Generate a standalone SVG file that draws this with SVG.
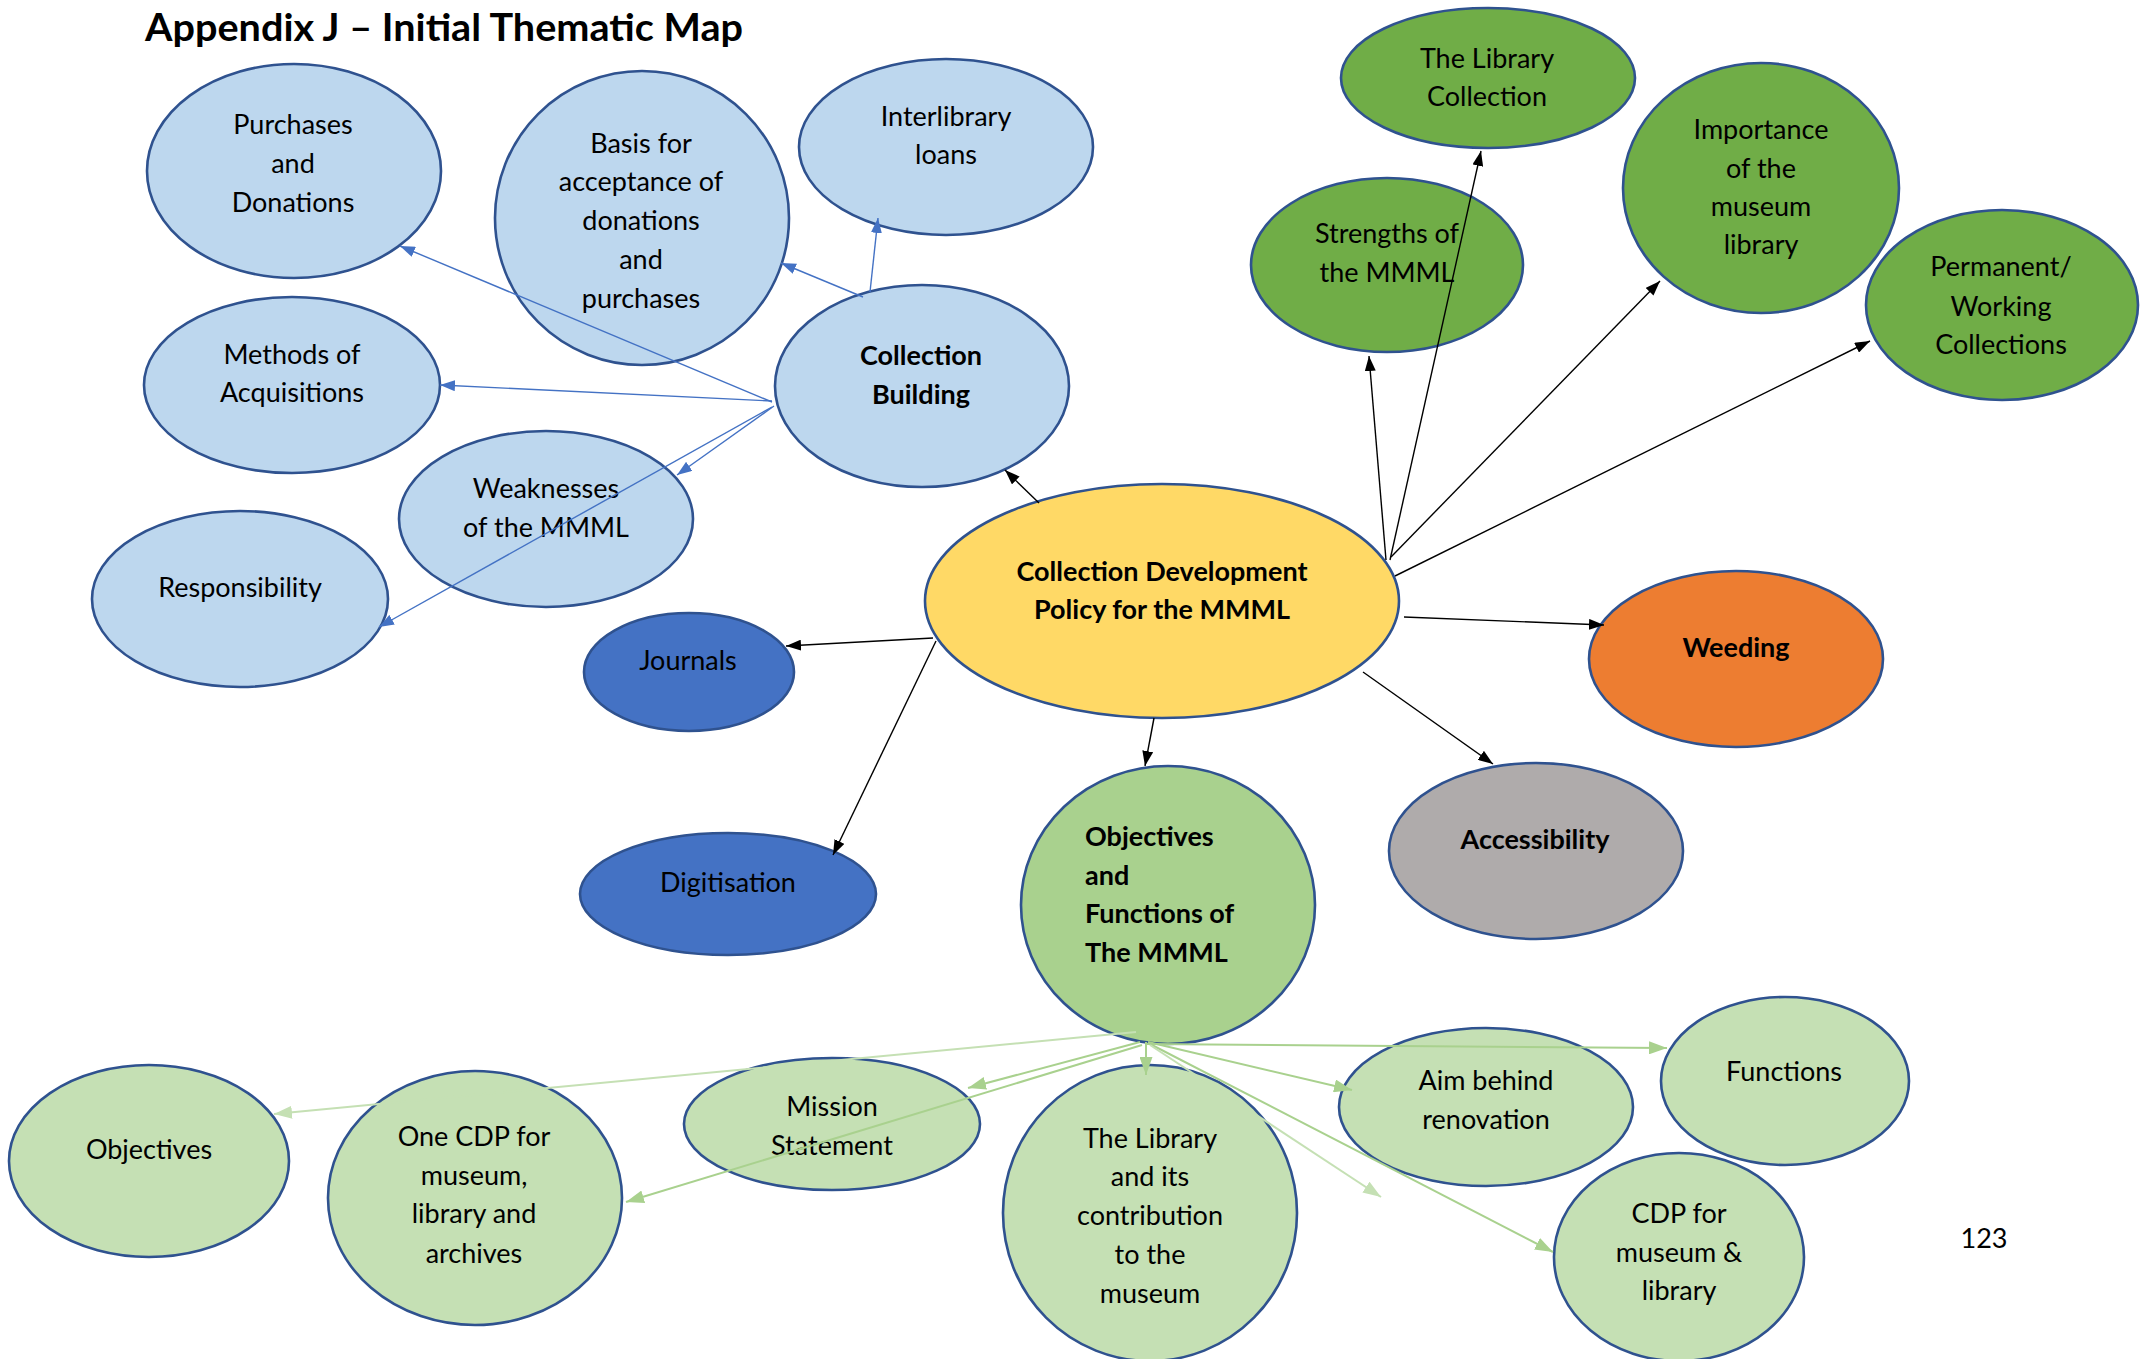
<svg xmlns="http://www.w3.org/2000/svg" width="2149" height="1359" viewBox="0 0 2149 1359">
<defs>
<style>
.n{stroke:#2F528F;stroke-width:2.6}
.lb{fill:#BDD7EE}.yl{fill:#FFD966}.db{fill:#4472C4}.gr{fill:#70AD47}.mg{fill:#A9D18E}.pg{fill:#C5E0B4}.or{fill:#ED7D31}.gy{fill:#AFABAB}
text{font-family:Lato,"Liberation Sans",sans-serif;font-size:27px;fill:#000;text-anchor:middle}
.b{font-weight:bold}
.l{text-anchor:start}
.k{stroke:#000;stroke-width:1.4;fill:none}
.u{stroke:#4472C4;stroke-width:1.4;fill:none}
.g{stroke:#A9D18E;stroke-width:2;fill:none}
.p{stroke:#C5E0B4;stroke-width:2;fill:none}
</style>
<marker id="ak" markerUnits="userSpaceOnUse" markerWidth="15" markerHeight="11" refX="15" refY="5.5" orient="auto"><path d="M0,0 L15,5.5 L0,11 z" fill="#000"/></marker>
<marker id="au" markerUnits="userSpaceOnUse" markerWidth="15" markerHeight="11" refX="15" refY="5.5" orient="auto"><path d="M0,0 L15,5.5 L0,11 z" fill="#4472C4"/></marker>
<marker id="ag" markerUnits="userSpaceOnUse" markerWidth="18" markerHeight="13" refX="18" refY="6.5" orient="auto"><path d="M0,0 L18,6.5 L0,13 z" fill="#A9D18E"/></marker>
<marker id="ap" markerUnits="userSpaceOnUse" markerWidth="18" markerHeight="13" refX="18" refY="6.5" orient="auto"><path d="M0,0 L18,6.5 L0,13 z" fill="#C5E0B4"/></marker>
</defs>
<rect width="2149" height="1359" fill="#fff"/>
<text x="145" y="41" class="b l" style="font-size:38px" textLength="598" lengthAdjust="spacingAndGlyphs">Appendix J – Initial Thematic Map</text>

<g id="purchases"><ellipse class="n lb" cx="294" cy="171" rx="147" ry="107"/><text x="293" y="134">Purchases</text><text x="293" y="173">and</text><text x="293" y="212">Donations</text></g>
<g id="basis"><ellipse class="n lb" cx="642" cy="218" rx="147" ry="147"/><text x="641" y="153">Basis for</text><text x="641" y="191">acceptance of</text><text x="641" y="230">donations</text><text x="641" y="269">and</text><text x="641" y="308">purchases</text></g>
<g id="interlibrary"><ellipse class="n lb" cx="946" cy="147" rx="147" ry="88"/><text x="946" y="126">Interlibrary</text><text x="946" y="164">loans</text></g>
<g id="methods"><ellipse class="n lb" cx="292" cy="385" rx="148" ry="88"/><text x="292" y="364">Methods of</text><text x="292" y="402">Acquisitions</text></g>
<g id="collection-building"><ellipse class="n lb" cx="922" cy="386" rx="147" ry="101"/><text x="921" y="365" class="b">Collection</text><text x="921" y="404" class="b">Building</text></g>
<g id="weaknesses"><ellipse class="n lb" cx="546" cy="519" rx="147" ry="88"/><text x="546" y="498">Weaknesses</text><text x="546" y="537">of the MMML</text></g>
<g id="responsibility"><ellipse class="n lb" cx="240" cy="599" rx="148" ry="88"/><text x="240" y="597">Responsibility</text></g>
<g id="journals"><ellipse class="n db" cx="689" cy="672" rx="105" ry="59"/><text x="688" y="670">Journals</text></g>
<g id="cdp"><ellipse class="n yl" cx="1162" cy="601" rx="237" ry="117"/><text x="1162" y="581" class="b">Collection Development</text><text x="1162" y="619" class="b">Policy for the MMML</text></g>
<g id="digitisation"><ellipse class="n db" cx="728" cy="894" rx="148" ry="61"/><text x="728" y="892">Digitisation</text></g>
<g id="objectives-functions"><ellipse class="n mg" cx="1168" cy="905" rx="147" ry="139"/><text x="1085" y="846" class="b l">Objectives</text><text x="1085" y="885" class="b l">and</text><text x="1085" y="923" class="b l">Functions of</text><text x="1085" y="962" class="b l">The MMML</text></g>
<g id="accessibility"><ellipse class="n gy" cx="1536" cy="851" rx="147" ry="88"/><text x="1535" y="849" class="b">Accessibility</text></g>
<g id="weeding"><ellipse class="n or" cx="1736" cy="659" rx="147" ry="88"/><text x="1736" y="657" class="b">Weeding</text></g>
<g id="library-collection"><ellipse class="n gr" cx="1488" cy="78" rx="147" ry="70"/><text x="1487" y="68">The Library</text><text x="1487" y="106">Collection</text></g>
<g id="strengths"><ellipse class="n gr" cx="1387" cy="265" rx="136" ry="87"/><text x="1387" y="243">Strengths of</text><text x="1387" y="282">the MMML</text></g>
<g id="importance"><ellipse class="n gr" cx="1761" cy="188" rx="138" ry="125"/><text x="1761" y="139">Importance</text><text x="1761" y="178">of the</text><text x="1761" y="216">museum</text><text x="1761" y="254">library</text></g>
<g id="permanent"><ellipse class="n gr" cx="2002" cy="305" rx="136" ry="95"/><text x="2001" y="276">Permanent/</text><text x="2001" y="316">Working</text><text x="2001" y="354">Collections</text></g>
<g id="objectives"><ellipse class="n pg" cx="149" cy="1161" rx="140" ry="96"/><text x="149" y="1159">Objectives</text></g>
<g id="one-cdp"><ellipse class="n pg" cx="475" cy="1198" rx="147" ry="127"/><text x="474" y="1146">One CDP for</text><text x="474" y="1185">museum,</text><text x="474" y="1223">library and</text><text x="474" y="1263">archives</text></g>
<g id="mission"><ellipse class="n pg" cx="832" cy="1124" rx="148" ry="66"/><text x="832" y="1116">Mission</text><text x="832" y="1155">Statement</text></g>
<g id="library-contribution"><ellipse class="n pg" cx="1150" cy="1213" rx="147" ry="148"/><text x="1150" y="1148">The Library</text><text x="1150" y="1186">and its</text><text x="1150" y="1225">contribution</text><text x="1150" y="1264">to the</text><text x="1150" y="1303">museum</text></g>
<g id="aim"><ellipse class="n pg" cx="1486" cy="1107" rx="147" ry="79"/><text x="1486" y="1090">Aim behind</text><text x="1486" y="1129">renovation</text></g>
<g id="functions"><ellipse class="n pg" cx="1785" cy="1081" rx="124" ry="84"/><text x="1784" y="1081">Functions</text></g>
<g id="cdp-museum-library"><ellipse class="n pg" cx="1679" cy="1257" rx="125" ry="104"/><text x="1679" y="1223">CDP for</text><text x="1679" y="1262">museum &amp;</text><text x="1679" y="1300">library</text></g>
<text x="1984" y="1248">123</text>

<g id="connectors">
<path class="u" d="M772,402 L400,246" marker-end="url(#au)"/>
<path class="u" d="M772,401 L440,385" marker-end="url(#au)"/>
<path class="u" d="M774,406 L677,475" marker-end="url(#au)"/>
<path class="u" d="M772,407 L379,627" marker-end="url(#au)"/>
<path class="u" d="M863,297 L781,263" marker-end="url(#au)"/>
<path class="u" d="M870,292 L878,218" marker-end="url(#au)"/>
<path class="k" d="M1039,503 L1005,470" marker-end="url(#ak)"/>
<path class="k" d="M933,638 L786,646" marker-end="url(#ak)"/>
<path class="k" d="M936,641 L833,855" marker-end="url(#ak)"/>
<path class="k" d="M1154,718 L1145,766" marker-end="url(#ak)"/>
<path class="k" d="M1363,672 L1493,764" marker-end="url(#ak)"/>
<path class="k" d="M1404,617 L1604,625" marker-end="url(#ak)"/>
<path class="k" d="M1386,560 L1369,356" marker-end="url(#ak)"/>
<path class="k" d="M1390,560 L1481,151" marker-end="url(#ak)"/>
<path class="k" d="M1391,557 L1660,281" marker-end="url(#ak)"/>
<path class="k" d="M1395,576 L1870,341" marker-end="url(#ak)"/>
<path class="p" d="M1136,1032 L274,1114" marker-end="url(#ap)"/>
<path class="g" d="M1140,1042 L968,1088" marker-end="url(#ag)"/>
<path class="g" d="M1142,1045 L626,1202" marker-end="url(#ag)"/>
<path class="g" d="M1146,1042 L1146,1075" marker-end="url(#ag)"/>
<path class="g" d="M1148,1042 L1352,1090" marker-end="url(#ag)"/>
<path class="g" d="M1146,1044 L1667,1048" marker-end="url(#ag)"/>
<path class="g" d="M1150,1044 L1553,1252" marker-end="url(#ag)"/>
<path class="p" d="M1150,1045 L1381,1197" marker-end="url(#ap)"/>
</g>
</svg>
